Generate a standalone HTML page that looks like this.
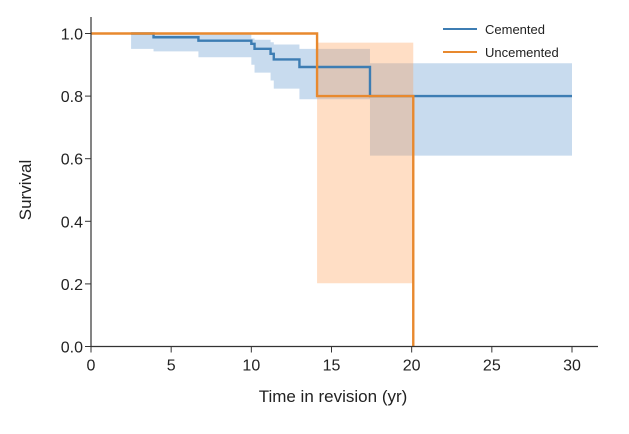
<!DOCTYPE html>
<html><head><meta charset="utf-8"><style>
html,body{margin:0;padding:0;background:#fff;}
svg text{font-family:"Liberation Sans",sans-serif;fill:#222;}
</style></head><body>
<svg id="chart" width="629" height="429" xmlns="http://www.w3.org/2000/svg">
<g id="bands"></g>
<g id="lines"></g>
<g id="axes"></g>
<g>
 <line x1="443" y1="29" x2="477" y2="29" stroke="#3d7db3" stroke-width="2"/>
 <text x="485" y="34" font-size="13">Cemented</text>
 <line x1="443" y1="52" x2="477" y2="52" stroke="#e8892e" stroke-width="2"/>
 <text x="485" y="57" font-size="13">Uncemented</text>
</g>
<text x="333" y="402" font-size="17" text-anchor="middle">Time in revision (yr)</text>
<text transform="translate(31,190) rotate(-90)" font-size="17" text-anchor="middle">Survival</text>
</svg>
<script>
const xTicks=[0,5,10,15,20,25,30];
const yTicks=[0.0,0.2,0.4,0.6,0.8,1.0];
const cemTimes=[2.5,3.9,6.7,10.0,10.2,11.2,11.4,13.0,17.4,30];
const cemSurv=[1.0,0.988,0.977,0.967,0.951,0.935,0.917,0.893,0.8,0.8];
const cemLower=[0.951,0.943,0.924,0.90,0.875,0.85,0.824,0.79,0.61,0.61];
const cemUpper=[1.0,1.0,1.0,0.984,0.98,0.972,0.965,0.951,0.905,0.905];
const uncTimes=[0,14.1,20.1,20.1];
const uncSurv=[1.0,0.8,0.0,0.0];
const uncBandTimes=[14.1,20.1];
const uncLower=[0.202,0.202];
const uncUpper=[0.971,0.971];

const X0=91,X1=572,Y0=346.5,Y1=33.5;
const sx=t=>X0+(X1-X0)*t/30;
const sy=v=>Y0+(Y1-Y0)*v;
const NS="http://www.w3.org/2000/svg";
function mk(tag,parent,attrs){const e=document.createElementNS(NS,tag);for(const k in attrs)e.setAttribute(k,attrs[k]);parent.appendChild(e);return e;}
function stepPath(ts,vs){let d=`M${sx(ts[0])},${sy(vs[0])}`;for(let i=1;i<ts.length;i++){d+=`H${sx(ts[i])}V${sy(vs[i])}`;}return d;}
function bandPath(ts,lo,hi,end){let d=`M${sx(ts[0])},${sy(hi[0])}`;for(let i=1;i<ts.length;i++)d+=`H${sx(ts[i])}V${sy(hi[i])}`;d+=`H${sx(end)}V${sy(lo[lo.length-1])}`;for(let i=ts.length-1;i>=1;i--)d+=`H${sx(ts[i])}V${sy(lo[i-1])}`;d+=`H${sx(ts[0])}Z`;return d;}
const bands=document.getElementById('bands'),lines=document.getElementById('lines'),axes=document.getElementById('axes');
const cb=mk('path',bands,{d:bandPath(cemTimes.slice(0,-1),cemLower.slice(0,-1),cemUpper.slice(0,-1),cemTimes[cemTimes.length-1]),fill:'rgba(110,160,210,0.38)'});


const ub=mk('path',bands,{d:bandPath(uncBandTimes.slice(0,1),uncLower,uncUpper,uncBandTimes[1]),fill:'rgba(255,160,90,0.35)'});


const cl=mk('path',lines,{d:stepPath(cemTimes,cemSurv),fill:'none',stroke:'#3d7db3','stroke-width':2.4});


const ul=mk('path',lines,{d:stepPath(uncTimes,uncSurv),fill:'none',stroke:'#e8892e','stroke-width':2.4});


const ya=mk('line',axes,{x1:X0,y1:17,x2:X0,y2:Y0,stroke:'#333','stroke-width':1.2});


const xa=mk('line',axes,{x1:X0,y1:Y0,x2:598,y2:Y0,stroke:'#333','stroke-width':1.2});


xTicks.forEach(t=>{const l=mk('line',axes,{x1:sx(t),y1:Y0,x2:sx(t),y2:Y0+6,stroke:'#333'});


const tx=mk('text',axes,{x:sx(t),y:Y0+24,'font-size':16,'text-anchor':'middle'});tx.textContent=t;

});
yTicks.forEach(v=>{const l=mk('line',axes,{x1:X0-6,y1:sy(v),x2:X0,y2:sy(v),stroke:'#333'});


const tx=mk('text',axes,{x:X0-8,y:sy(v)+6,'font-size':16,'text-anchor':'end'});tx.textContent=v.toFixed(1);

});
</script>
</body></html>
